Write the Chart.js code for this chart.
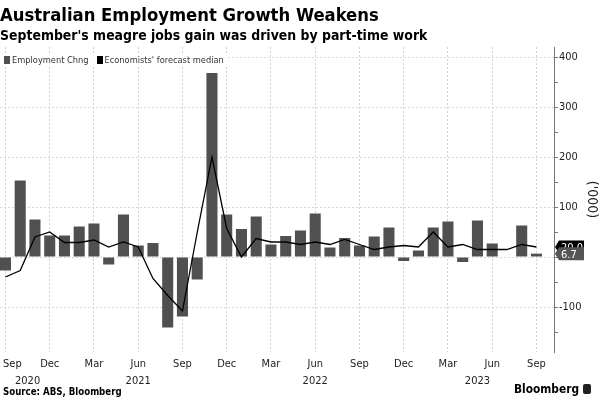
<!DOCTYPE html>
<html>
<head>
<meta charset="utf-8">
<script src="https://cdn.jsdelivr.net/npm/chart.js@4/dist/chart.umd.min.js"></script>
<style>
  body { margin: 0; background: #fff; font-family: "DejaVu Sans Condensed", "DejaVu Sans", sans-serif; }
  #wrap { position: relative; width: 600px; height: 400px; overflow: hidden; }
  #chart { position: absolute; left: 0; top: 0; }
  .title { position: absolute; left: 0; top: 4px; font-size: 18.3px; font-weight: bold; color: #000; white-space: nowrap; }
  .sub { position: absolute; left: 0; top: 27px; font-size: 13.9px; font-weight: bold; color: #000; white-space: nowrap; }
  .legend { position: absolute; left: 0; top: 54px; padding: 0 4px; background: rgba(255,255,255,0.9); font-size: 9.2px; color: #333; white-space: nowrap; }
  .legend span.sw { display: inline-block; width: 6px; height: 8px; margin-right: 2px; vertical-align: -1px; }
  .legend span.gap { display: inline-block; width: 8px; }
  .source { position: absolute; left: 3px; top: 386px; font-size: 9.6px; font-weight: bold; color: #000; }
  .brand { position: absolute; right: 9px; top: 382px; font-size: 11.8px; font-weight: bold; color: #000; }
  .brand i { display: inline-block; width: 8px; height: 10px; background: #222; border-radius: 2px; margin-left: 4px; vertical-align: -1px; }
</style>
</head>
<body>
<div id="wrap">
  <canvas id="chart" width="600" height="400"></canvas>
  <div class="title">Australian Employment Growth Weakens</div>
  <div class="sub">September's meagre jobs gain was driven by part-time work</div>
  <div class="legend"><span class="sw" style="background:#505050"></span>Employment Chng<span class="gap"></span><span class="sw" style="background:#000"></span>Economists' forecast median</div>
  <div class="source">Source: ABS, Bloomberg</div>
  <div class="brand">Bloomberg<i></i></div>
</div>
<script>
// monthly data, Sep 2020 .. Sep 2023 (thousands)
const months = ['Sep','Oct','Nov','Dec','Jan','Feb','Mar','Apr','May','Jun','Jul','Aug',
  'Sep','Oct','Nov','Dec','Jan','Feb','Mar','Apr','May','Jun','Jul','Aug',
  'Sep','Oct','Nov','Dec','Jan','Feb','Mar','Apr','May','Jun','Jul','Aug','Sep'];

const employment = [-27, 153, 75, 43,
  43, 61, 67, -15, 85, 23, 28, -141, -119, -45, 368, 85,
  56, 81, 25, 42, 53, 87, 19, 38, 23, 41, 59, -8,
  13, 59, 71, -10, 73, 27, -1, 63, 6.7];

const forecast = [-40, -27, 40, 50,
  29, 29, 34, 20, 30, 20, -43, -77, -108, 49, 200, 57,
  0, 37, 30, 30, 25, 30, 25, 35, 25, 15, 20, 23,
  20, 50, 20, 25, 15, 15, 15, 25, 20];

// quarter ticks (index into months) and year labels (centre, in month units)
const monthTicks = [0, 3, 6, 9, 12, 15, 18, 21, 24, 27, 30, 33, 36];
const years = ['2020', '2021', '2022', '2023'];
const yearPos = [1.5, 9, 21, 32];

const barPts = employment.map((v, i) => ({x: i, y: v}));
const linePts = forecast.map((v, i) => ({x: i, y: v}));

const FONT = '"DejaVu Sans Condensed", "DejaVu Sans", sans-serif';

const xLabels = {
  id: 'xLabels',
  afterDraw(chart) {
    const {ctx, chartArea} = chart;
    const x = chart.scales.x;
    ctx.save();
    ctx.fillStyle = '#222';
    ctx.font = '11px ' + FONT;
    ctx.textAlign = 'center';
    ctx.textBaseline = 'middle';
    monthTicks.forEach(m => {
      const t = months[m];
      const w = ctx.measureText(t).width;
      let px = x.getPixelForValue(m);
      px = Math.max(px, chartArea.left + w / 2 + 3);
      ctx.fillText(t, px, chartArea.bottom + 12);
    });
    years.forEach((t, i) => {
      ctx.fillText(t, x.getPixelForValue(yearPos[i]), chartArea.bottom + 29);
    });
    ctx.restore();
  }
};

// value tags on the right axis
const lastTags = {
  id: 'lastTags',
  afterDraw(chart) {
    const {ctx, chartArea} = chart;
    const y = chart.scales.y;
    const tags = [
      {v: forecast[forecast.length - 1], bg: '#000'},
      {v: employment[employment.length - 1], bg: '#555'}
    ];
    ctx.save();
    ctx.font = '11px ' + FONT;
    ctx.textBaseline = 'middle';
    tags.forEach(t => {
      const py = y.getPixelForValue(t.v);
      const x0 = chartArea.right + 1;
      const h = 13;
      ctx.fillStyle = t.bg;
      ctx.beginPath();
      ctx.moveTo(x0, py);
      ctx.lineTo(x0 + 4, py - h / 2);
      ctx.lineTo(x0 + 29, py - h / 2);
      ctx.lineTo(x0 + 29, py + h / 2);
      ctx.lineTo(x0 + 4, py + h / 2);
      ctx.closePath();
      ctx.fill();
      ctx.fillStyle = '#fff';
      ctx.fillText(t.v.toFixed(1), x0 + 6, py + 1);
    });
    ctx.restore();
  }
};

new Chart(document.getElementById('chart'), {
  type: 'bar',
  data: {
    datasets: [
      {
        type: 'line',
        label: "Economists' forecast median",
        data: linePts,
        borderColor: '#000',
        borderWidth: 1.3,
        pointRadius: 0,
        tension: 0,
        order: 0
      },
      {
        label: 'Employment Chng',
        data: barPts,
        backgroundColor: '#505050',
        categoryPercentage: 1,
        barPercentage: 0.75,
        order: 1
      }
    ]
  },
  options: {
    responsive: false,
    animation: false,
    layout: { padding: { left: 0, top: 47, right: 0, bottom: 8 } },
    plugins: { legend: { display: false }, tooltip: { enabled: false } },
    scales: {
      x: {
        type: 'linear',
        offset: false,
        min: -0.37,
        max: 37.19,
        afterBuildTicks: axis => { axis.ticks = monthTicks.map(v => ({value: v})); },
        afterFit: axis => { axis.height = 40; },
        ticks: { display: false },
        border: { display: false, dash: [2, 2] },
        grid: { offset: false, color: '#d2d2d2', tickLength: 0, drawTicks: false }
      },
      y: {
        position: 'right',
        min: -190,
        max: 420,
        afterBuildTicks: axis => {
          const t = [];
          for (let v = -150; v <= 400; v += 50) t.push({value: v});
          axis.ticks = t;
        },
        afterFit: axis => { axis.width = 46; },
        border: { display: true, color: '#777', width: 1, dash: [2, 2] },
        grid: {
          color: ctx => (ctx.tick && ctx.tick.value % 100 === 0) ? '#d8d8d8' : 'rgba(0,0,0,0)',
          tickColor: '#777',
          tickLength: 4,
          tickBorderDash: [],
          drawOnChartArea: true
        },
        ticks: {
          padding: 1,
          color: '#222',
          font: { family: FONT, size: 11 },
          callback: v => (v % 100 === 0 && v !== 0) ? v : ''
        },
        title: {
          display: true,
          text: "('000)",
          color: '#222',
          font: { family: FONT, size: 14 },
          padding: { top: 0, bottom: 2 }
        }
      }
    }
  },
  plugins: [xLabels, lastTags]
});
</script>
</body>
</html>
